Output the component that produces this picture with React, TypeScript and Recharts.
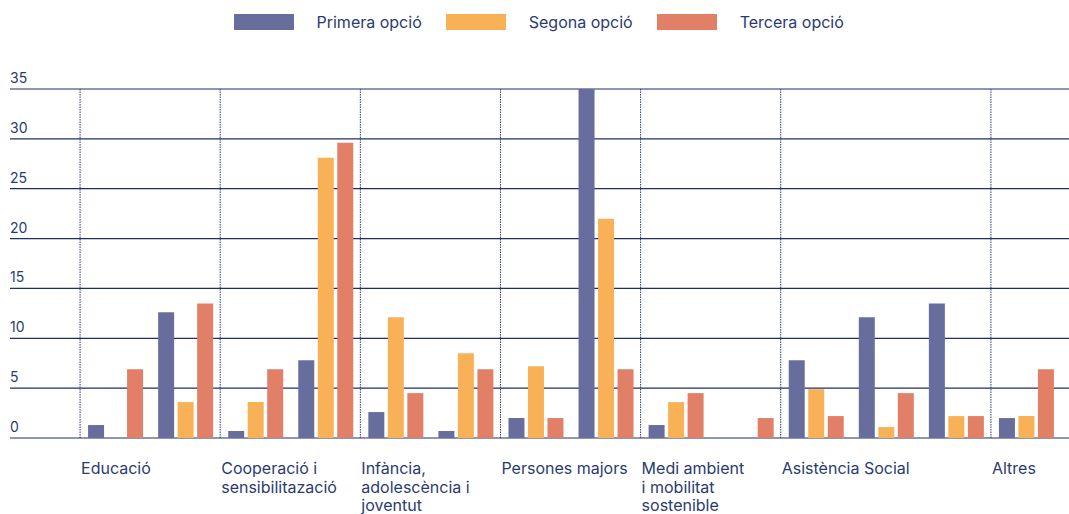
import React from 'react';
import { BarChart, Bar, XAxis, YAxis, CartesianGrid, ReferenceLine, Legend } from 'recharts';

// Category names (one label per category; "\n" separates label lines)
const categories = [
  'Educació',
  'Cooperació i\nsensibilitazació',
  'Infància,\nadolescència i\njoventut',
  'Persones majors',
  'Medi ambient\ni mobilitat\nsostenible',
  'Asistència Social',
  'Altres',
];
// number of bar groups that belong to each category
const groupsPerCategory = [2, 2, 2, 2, 2, 3, 1];

// values for each bar group, in order (first slot is the empty leading slot)
const primera = [null, 1.3, 12.6, 0.7, 7.8, 2.6, 0.7, 2.0, 35, 1.3, 0, 7.8, 12.1, 13.5, 2.0];
const segona = [null, 0, 3.6, 3.6, 28.1, 12.1, 8.5, 7.2, 22.0, 3.6, 0, 4.9, 1.1, 2.2, 2.2];
const tercera = [null, 6.9, 13.5, 6.9, 29.6, 4.5, 6.9, 2.0, 6.9, 4.5, 2.0, 2.2, 4.5, 2.2, 6.9];

const yTicks = [0, 5, 10, 15, 20, 25, 30, 35];

const seriesNames = ['Primera opció', 'Segona opció', 'Tercera opció'];
const COLORS = ['#676e9e', '#f9b158', '#e27f67'];
const TEXT = '#2a3b73';
const GRID = '#1f2f66';
const FONT = 'Inter, "Noto Sans", sans-serif';

const data = primera.map((_, i) => ({
  slot: 's' + i,
  primera: primera[i],
  segona: segona[i],
  tercera: tercera[i],
}));

// slot key at which each category begins
const categoryStarts: string[] = [];
{
  let acc = 1;
  groupsPerCategory.forEach((g) => {
    categoryStarts.push('s' + acc);
    acc += g;
  });
}

const CategoryTick = (props: any) => {
  const { x, y, payload } = props;
  const idx = categoryStarts.indexOf(payload.value);
  if (idx < 0) return null;
  const half = typeof payload.offset === 'number' && payload.offset > 0 ? payload.offset : 35;
  const lx = x - half + 1;
  const lines = categories[idx].split('\n');
  return (
    <text x={lx} y={y + 36} fill={TEXT} fontSize={16} fontFamily={FONT} textAnchor="start">
      {lines.map((l, i) => (
        <tspan key={i} x={lx} dy={i === 0 ? 0 : 18.5}>
          {l}
        </tspan>
      ))}
    </text>
  );
};

const YTick = (props: any) => {
  const { y, payload } = props;
  return (
    <text x={10} y={y - 6} fill={TEXT} fontSize={14} fontFamily={FONT} textAnchor="start">
      {payload.value}
    </text>
  );
};

const LegendContent = () => (
  <div style={{ display: 'flex', alignItems: 'center', paddingLeft: 234, paddingTop: 14, fontFamily: FONT }}>
    {seriesNames.map((n, i) => (
      <div key={n} style={{ display: 'flex', alignItems: 'center', marginRight: 24.5 }}>
        <div style={{ width: 60, height: 16, background: COLORS[i], marginRight: 22.5 }} />
        <span style={{ fontSize: 16, lineHeight: '16px', color: TEXT }}>{n}</span>
      </div>
    ))}
  </div>
);

export default function App() {
  return (
    <div style={{ position: 'absolute', left: 0, top: 0, fontFamily: FONT }}>
      <BarChart
        width={1069}
        height={514}
        data={data}
        margin={{ top: 89, right: 0, bottom: 0, left: 9 }}
        barSize={16}
        barGap={3.5}
      >
        <CartesianGrid vertical={false} stroke={GRID} strokeWidth={1.2} />
        <XAxis
          dataKey="slot"
          padding={{ left: 0, right: 8 }}
          axisLine={false}
          tickLine={false}
          tickSize={0}
          tickMargin={0}
          height={76}
          interval={0}
          tick={<CategoryTick />}
        />
        <YAxis
          width={1}
          domain={[0, 35]}
          ticks={yTicks}
          axisLine={false}
          tickLine={false}
          tickSize={0}
          tickMargin={0}
          tick={<YTick />}
          interval={0}
        />
        <Legend
          verticalAlign="middle"
          align="center"
          layout="horizontal"
          wrapperStyle={{ top: 0, left: 0, width: 1069 }}
          content={<LegendContent />}
        />
        {categoryStarts.map((s) => (
          <ReferenceLine
            key={s}
            x={s}
            position="start"
            segment={[{ x: s, y: -1.2 }, { x: s, y: 35 }]}
            stroke="#2a3b73"
            strokeWidth={1}
            strokeDasharray="1.5 1"
            ifOverflow="visible"
          />
        ))}
        <Bar dataKey="primera" name={seriesNames[0]} fill={COLORS[0]} isAnimationActive={false} />
        <Bar dataKey="segona" name={seriesNames[1]} fill={COLORS[1]} isAnimationActive={false} />
        <Bar dataKey="tercera" name={seriesNames[2]} fill={COLORS[2]} isAnimationActive={false} />
      </BarChart>
    </div>
  );
}
